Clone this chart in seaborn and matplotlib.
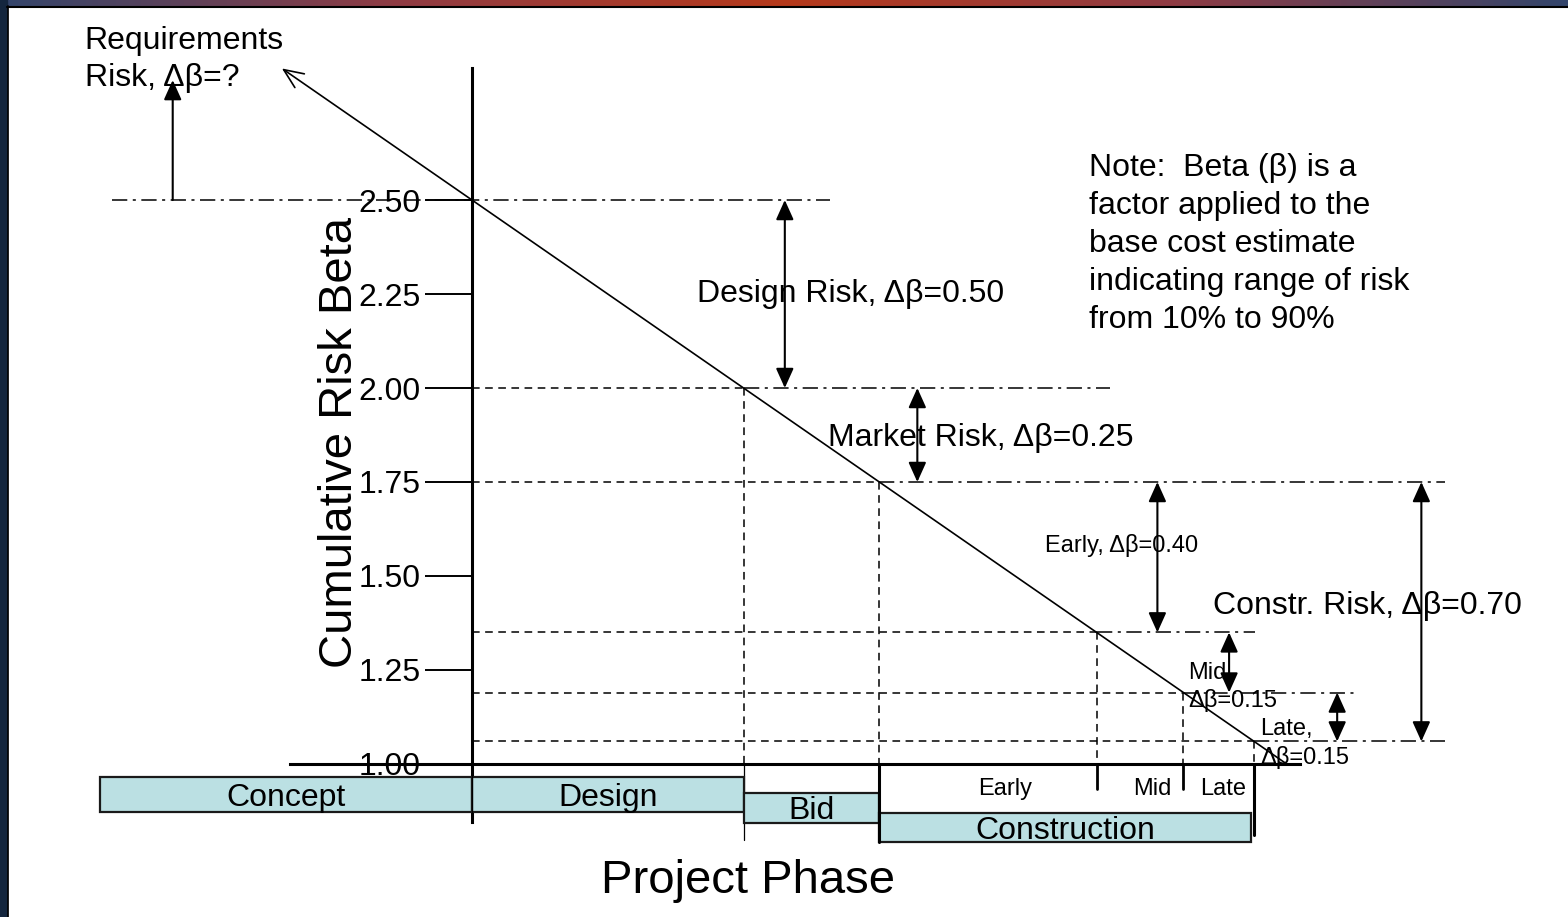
import numpy as np
import seaborn as sns
import matplotlib.pyplot as plt
from matplotlib.patches import Rectangle
from matplotlib.lines import Line2D
from matplotlib.colors import LinearSegmentedColormap

# project phases along the schedule axis (beta line: beta = 2.5 - x)
phase_names = ["Concept", "Design", "Bid", "Construction"]
phase_start = [-0.685, 0.0, 0.5, 0.75]
phase_end = [0.0, 0.5, 0.75, 1.435]
sub_phases = ["Early", "Mid", "Late"]
sub_bounds = [1.15, 1.31]

# cumulative risk beta at each milestone
milestone_x = [0.0, 0.5, 0.75, 1.15, 1.31, 1.44]
milestone_beta = [2.50, 2.00, 1.75, 1.35, 1.19, 1.06]
line_x = [0.0, 0.5, 0.75, 1.15, 1.31, 1.44, 1.50]
line_beta = [2.50, 2.00, 1.75, 1.35, 1.19, 1.06, 1.00]

ytick_vals = [1.00, 1.25, 1.50, 1.75, 2.00, 2.25, 2.50]
ytick_labels = ["1.00", "1.25", "1.50", "1.75", "2.00", "2.25", "2.50"]

risk_labels = ["Design Risk, Δβ=0.50", "Market Risk, Δβ=0.25", "Early, Δβ=0.40",
               "Mid,\nΔβ=0.15", "Late,\nΔβ=0.15", "Constr. Risk, Δβ=0.70"]
risk_top = [2.50, 2.00, 1.75, 1.35, 1.19, 1.75]
risk_bottom = [2.00, 1.75, 1.35, 1.19, 1.06, 1.06]

note = ("Note:  Beta (β) is a\nfactor applied to the\nbase cost estimate\n"
        "indicating range of risk\nfrom 10% to 90%")

sns.set_style("white")
plt.rcParams['font.family'] = ['Liberation Sans', 'DejaVu Sans']
plt.rcParams['text.color'] = 'black'

fig = plt.figure(figsize=(15.68, 9.17), dpi=100)
ax = fig.add_axes([0, 0, 1, 1])
ax.set_xlim(-0.869, 2.018)
ax.set_ylim(0.593, 3.032)

# axes: crossing at x=0, beta=1
ax.spines["top"].set_visible(False)
ax.spines["right"].set_visible(False)
ax.spines["left"].set_position(("data", 0))
ax.spines["bottom"].set_position(("data", 1.0))
ax.spines["left"].set_bounds(0.846, 2.851)
ax.spines["bottom"].set_bounds(-0.335, 1.525)
for s in ["left", "bottom"]:
    ax.spines[s].set_linewidth(2.2)
    ax.spines[s].set_color("black")
ax.set_xticks([])
ax.set_yticks(ytick_vals, ytick_labels)
ax.tick_params(axis="y", left=True, direction="out", length=34, width=1.4, pad=3,
               labelsize=23, color="black", labelcolor="black")

dash = (0, (5, 3.6))
dashdot = (0, (10, 3.6, 2, 3.6))

# dashed guide lines from the axis to each milestone
for xm, bm in zip(milestone_x[1:], milestone_beta[1:]):
    ax.plot([0, xm], [bm, bm], color="black", lw=1.1, ls=dash, zorder=1)
    ax.plot([xm, xm], [bm, 1.0], color="black", lw=1.1, ls=dash, zorder=1)

# dash-dot reference levels
dd_start = [-0.663] + milestone_x[1:]
dd_end = [0.659, 1.175, 1.792, 1.442, 1.626, 1.792]
for x0, x1, bm in zip(dd_start, dd_end, milestone_beta):
    ax.plot([x0, x1], [bm, bm], color="black", lw=1.1, ls=dashdot, zorder=1)

# the cumulative risk line
sns.lineplot(x=line_x, y=line_beta, ax=ax, color="black", lw=1.2, estimator=None)
ax.annotate("", xy=(-0.35, 2.85), xytext=(0, 2.5),
            arrowprops=dict(arrowstyle="->,head_length=0.7,head_width=0.3",
                            color="black", lw=1.2, mutation_scale=20,
                            shrinkA=0, shrinkB=0))

# risk increments
arrow_x = [0.576, 0.820, 1.262, 1.394, 1.593, 1.748]
for xa, t, b in zip(arrow_x, risk_top, risk_bottom):
    ax.annotate("", xy=(xa, b), xytext=(xa, t),
                arrowprops=dict(arrowstyle="<|-|>,head_length=0.6,head_width=0.27",
                                color="black", lw=1.5, mutation_scale=20,
                                shrinkA=0, shrinkB=0))
ax.annotate("", xy=(-0.551, 2.819), xytext=(-0.551, 2.5),
            arrowprops=dict(arrowstyle="-|>,head_length=0.6,head_width=0.27",
                            color="black", lw=1.5, mutation_scale=20,
                            shrinkA=0, shrinkB=0))

label_pos = [(0.414, 2.251), (0.656, 1.868), (1.055, 1.580),
             (1.319, 1.205), (1.451, 1.055), (1.365, 1.421)]
label_size = [23, 23, 17, 17, 17, 23]
for txt, (tx, ty), fs in zip(risk_labels, label_pos, label_size):
    ax.text(tx, ty, txt, fontsize=fs, ha="left", va="center", linespacing=1.3, zorder=4)

ax.text(-0.713, 2.874, "Requirements\nRisk, Δβ=?", fontsize=23, ha="left", va="center",
        linespacing=1.3)
ax.text(1.136, 2.384, note, fontsize=23, ha="left", va="center", linespacing=1.35)

# phase bars
box_y = [0.919, 0.919, 0.883, 0.831]
box_h = [0.093, 0.093, 0.080, 0.077]
widths = [e - s for s, e in zip(phase_start, phase_end)]
ax.barh(box_y, widths, left=phase_start, height=box_h, color="#bbe0e3",
        edgecolor="#1a1a1a", linewidth=1.6, zorder=3)
for name, s, e, yc in zip(phase_names, phase_start, phase_end, box_y):
    ax.text((s + e) / 2, yc - 0.009, name, fontsize=23, ha="center", va="center", zorder=4)

# construction sub-phase dividers
ax.plot([0.75, 0.75], [1.0, 0.793], color="black", lw=2.2, zorder=4)
ax.plot([1.44, 1.44], [1.0, 0.811], color="black", lw=2.2, zorder=4)
for xb in sub_bounds:
    ax.plot([xb, xb], [1.0, 0.933], color="black", lw=2.0, zorder=4)
ax.plot([0.5, 0.5], [1.0, 0.798], color="black", lw=0.9, zorder=2)
ax.plot([0, 0], [1.0, 0.846], color="black", lw=0.9, zorder=4)
for name, xc in zip(sub_phases, [0.982, 1.252, 1.383]):
    ax.text(xc, 0.933, name, fontsize=17, ha="center", va="center")

ax.text(0.509, 0.657, "Project Phase", fontsize=34, ha="center", va="baseline")
ax.text(-0.243, 1.855, "Cumulative Risk Beta", fontsize=34, rotation=90,
        ha="center", va="center")

# slide frame
bar = fig.add_axes([0, 1 - 6 / 917, 1, 6 / 917])
cmap = LinearSegmentedColormap.from_list(
    "top", ["#33456b", "#8f3c44", "#b5391b", "#8f3c44", "#33456b"])
bar.imshow(np.linspace(0, 1, 256)[None, :], aspect="auto", cmap=cmap)
bar.axis("off")
fig.add_artist(Rectangle((0, 0), 7 / 1568, 1, transform=fig.transFigure,
                         color="#14263e", zorder=10))
fig.add_artist(Line2D([7.5 / 1568] * 2, [0, 1 - 6 / 917], transform=fig.transFigure,
                      color="black", lw=1.2, zorder=10))
fig.add_artist(Line2D([7 / 1568, 1], [1 - 7 / 917] * 2, transform=fig.transFigure,
                      color="black", lw=1.5, zorder=10))

fig.savefig("out.png", dpi=100)
